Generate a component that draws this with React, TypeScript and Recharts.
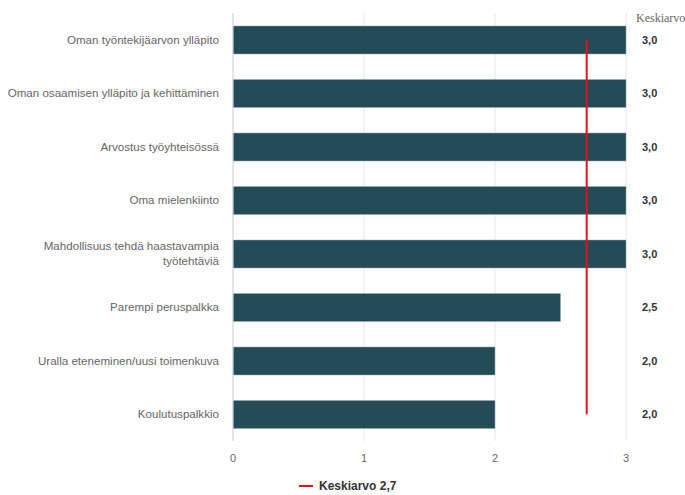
import React from 'react';
import { ComposedChart, Bar, Line, XAxis, YAxis, CartesianGrid } from 'recharts';

const categories = [
  'Oman työntekijäarvon ylläpito',
  'Oman osaamisen ylläpito ja kehittäminen',
  'Arvostus työyhteisössä',
  'Oma mielenkiinto',
  'Mahdollisuus tehdä haastavampia työtehtäviä',
  'Parempi peruspalkka',
  'Uralla eteneminen/uusi toimenkuva',
  'Koulutuspalkkio',
];
const values = [3.0, 3.0, 3.0, 3.0, 3.0, 2.5, 2.0, 2.0];
const valueLabels = ['3,0', '3,0', '3,0', '3,0', '3,0', '2,5', '2,0', '2,0'];
const averageValue = 2.7;
const averageLabel = 'Keskiarvo 2,7';
const xTicks = [0, 1, 2, 3];

const data = categories.map((name, i) => ({ name, value: values[i], avg: averageValue }));

const wrapLabel = (s: string, max: number) => {
  const words = s.split(' ');
  const lines: string[] = [];
  let cur = '';
  words.forEach((w) => {
    const next = cur ? cur + ' ' + w : w;
    if (next.length > max && cur) {
      lines.push(cur);
      cur = w;
    } else cur = next;
  });
  if (cur) lines.push(cur);
  return lines;
};

const LeftTick = (props: any) => {
  const { x, y, payload } = props;
  const lines = payload.value.length > 40 ? wrapLabel(payload.value, 34) : [payload.value];
  const lh = 15;
  const start = -((lines.length - 1) * lh) / 2;
  return (
    <text x={x - 6} y={y} textAnchor="end" fontSize={11.6} fill="#666" fontFamily="Arial, 'Liberation Sans', sans-serif">
      {lines.map((l, i) => (
        <tspan key={i} x={x - 6} y={y + start + i * lh} dy="0.35em">{l}</tspan>
      ))}
    </text>
  );
};

const RightTick = (props: any) => {
  const { x, y, index } = props;
  return (
    <text x={x + 8} y={y} dy="0.35em" textAnchor="start" fontSize={11} fontWeight="bold" fill="#333" fontFamily="Arial, 'Liberation Sans', sans-serif">
      {valueLabels[index]}
    </text>
  );
};

export default function App() {
  return (
    <div style={{ position: 'absolute', left: 0, top: 0, width: 685, height: 495, background: '#fff' }}>
      <ComposedChart
        width={685}
        height={495}
        data={data}
        layout="vertical"
        margin={{ top: 13, right: 0, bottom: 24, left: 0 }}
      >
        <CartesianGrid horizontal={false} stroke="#e6e6e6" />
        <XAxis
          type="number"
          domain={[0, 3]}
          ticks={xTicks}
          axisLine={false}
          tickLine={false}
          height={30}
          tick={{ fontSize: 11, fill: '#666', fontFamily: "Arial, 'Liberation Sans', sans-serif" }}
          tickMargin={7}
        />
        <YAxis
          yAxisId="left"
          type="category"
          dataKey="name"
          width={233}
          axisLine={{ stroke: '#ccd6eb' }}
          tickLine={false}
          tick={<LeftTick />}
          interval={0}
        />
        <YAxis
          yAxisId="right"
          type="category"
          dataKey="name"
          orientation="right"
          width={59}
          axisLine={false}
          tickLine={false}
          tick={<RightTick />}
          interval={0}
        />
        <Bar yAxisId="left" dataKey="value" fill="#244b58" stroke="#9aabb1" strokeWidth={0.5} barSize={28} isAnimationActive={false} />
        <Line yAxisId="left" dataKey="avg" stroke="#e8101a" strokeWidth={2} dot={false} activeDot={false} isAnimationActive={false} />
      </ComposedChart>
      <div style={{ position: 'absolute', left: 636, top: 11, fontFamily: "'Liberation Serif', 'DejaVu Serif', serif", fontSize: 12, color: '#666' }}>
        Keskiarvo
      </div>
      <div style={{ position: 'absolute', left: 299, top: 479, display: 'flex', alignItems: 'center', fontFamily: "Arial, 'Liberation Sans', sans-serif" }}>
        <div style={{ width: 14, height: 2, background: '#e8101a', marginRight: 6 }} />
        <span style={{ fontSize: 12, fontWeight: 'bold', color: '#333' }}>{averageLabel}</span>
      </div>
    </div>
  );
}
